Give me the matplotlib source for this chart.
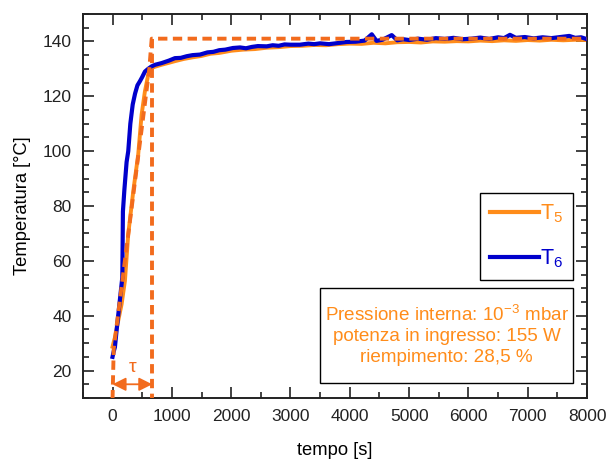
import matplotlib.pyplot as plt
from matplotlib.patches import Rectangle
from matplotlib.ticker import MultipleLocator

plt.rcParams['font.family'] = ['Liberation Sans', 'DejaVu Sans']
plt.rcParams['mathtext.fontset'] = 'custom'
plt.rcParams['mathtext.rm'] = 'Liberation Sans'
plt.rcParams['mathtext.it'] = 'Liberation Sans'

# T6 (blue)
t6_time = [0, 20, 40, 70, 100, 130, 155, 165, 175, 200, 237, 265, 300, 340, 380, 420, 462, 500,
           546, 600, 659, 720, 828, 950, 1052, 1150, 1250, 1350, 1474, 1600, 1700, 1800, 1900,
           2030, 2150, 2250, 2350, 2450, 2599, 2700, 2800, 2900, 3000, 3160, 3300, 3400, 3500,
           3650, 3800, 3948, 4100, 4250, 4370, 4450, 4550, 4707, 4800, 4900, 5000, 5150, 5300,
           5450, 5600, 5750, 5900, 6050, 6200, 6350, 6500, 6600, 6700, 6800, 6950, 7100, 7250,
           7400, 7550, 7700, 7800, 7900, 8000]
t6_temp = [25, 27, 28.5, 35, 41, 47, 52, 54, 78, 86, 96, 100, 110, 117, 121, 124, 125.5, 127,
           129, 130, 130.9, 131.5, 132.1, 133, 133.9, 134, 134.6, 135, 135.2, 136, 136.2, 136.8,
           137, 137.6, 137.8, 137.5, 138, 138.3, 138.2, 138.6, 138.4, 138.9, 138.8, 138.8, 139.2,
           139, 139.3, 139.0, 139.4, 139.8, 139.9, 140.3, 142.6, 140.2, 140.6, 142.3, 140.4,
           140.8, 140.5, 141, 140.6, 141.2, 140.9, 141.3, 140.8, 141, 141.4, 140.9, 141.5, 141.2,
           142.4, 141.3, 141.6, 141.1, 141.5, 141.2, 141.6, 142, 141.3, 141.5, 140.8]

# T5 (orange)
t5_time = [0, 15, 40, 96, 153, 209, 265, 350, 433, 490, 546, 602, 659, 720, 828, 950, 1052,
           1200, 1350, 1500, 1650, 1800, 2000, 2200, 2400, 2600, 2800, 3000, 3200, 3400, 3600,
           3800, 4000, 4200, 4400, 4600, 4800, 5000, 5200, 5400, 5600, 5800, 6000, 6200, 6400,
           6600, 6800, 7000, 7200, 7400, 7600, 7800, 8000]
t5_temp = [28.7, 30, 32, 38.2, 44.2, 52.7, 69.8, 85.5, 98.8, 113.3, 121.8, 127.9, 130.3, 130.8,
           131.5, 132.2, 132.8, 133.6, 134.2, 134.7, 135.5, 135.8, 136.6, 137, 137.2, 137.7,
           137.9, 138.3, 138.4, 138.7, 138.6, 139, 139.2, 139.1, 139.5, 139.3, 139.7, 139.8,
           139.6, 140, 139.9, 140.1, 140, 140.3, 140.1, 140.4, 140.2, 140.5, 140.3, 140.6,
           140.4, 140.6, 140.5]

# tangent / step construction
tang_time = [0, 20, 620, 660, 8000]
tang_temp = [9.5, 28, 130, 141, 141]
tau = 670
tau_line = [141, 10]
arrow_y = 15

c_t5 = '#ff8c1a'
c_dash = '#f26b1d'
c_t6 = '#0000cc'

fig = plt.figure(figsize=(6.09, 4.63), dpi=100)
ax = fig.add_axes([0.1356, 0.1404, 0.8284, 0.8294])

ax.plot(t5_time, t5_temp, color=c_t5, lw=2.8, label='T$_5$', zorder=2)
ax.plot(t6_time, t6_temp, color=c_t6, lw=3.0, label='T$_6$', zorder=3)
ax.plot(tang_time, tang_temp, color=c_dash, lw=2.8, ls=(0, (2.4, 1.4)), zorder=4)
ax.plot([tau, tau], tau_line, color=c_dash, lw=2.8, ls=(0, (2.4, 1.4)), zorder=4)

ax.annotate('', xy=(tau, arrow_y), xytext=(0, arrow_y),
            arrowprops=dict(arrowstyle='<|-|>', color=c_dash, lw=1.3, mutation_scale=20,
                            shrinkA=0, shrinkB=0))
ax.text(tau / 2, 21, 'τ', color=c_dash, fontsize=14, ha='center', va='center')

ax.set_xlim(-505, 8000)
ax.set_ylim(10, 150)
ax.xaxis.set_major_locator(MultipleLocator(1000))
ax.xaxis.set_minor_locator(MultipleLocator(500))
ax.yaxis.set_major_locator(MultipleLocator(20))
ax.yaxis.set_minor_locator(MultipleLocator(5))
ax.tick_params(which='both', direction='in', top=True, right=True, labelsize=12.5, width=1.2,
               colors='#222222')
ax.tick_params(which='major', length=8, pad=8)
ax.tick_params(which='minor', length=4.5)
for s in ax.spines.values():
    s.set_linewidth(1.4)
    s.set_color('#222222')

ax.set_xlabel('tempo [s]', fontsize=13.2, labelpad=13)
ax.set_ylabel('Temperatura [°C]', fontsize=13.2, labelpad=8)

leg = ax.legend(loc='upper right', bbox_to_anchor=(0.972, 0.535), borderaxespad=0, fontsize=15.5,
                handlelength=2.3, handletextpad=0.05, labelspacing=1.05, borderpad=0.45,
                fancybox=False, edgecolor='black', framealpha=1, labelcolor='linecolor')
leg.get_frame().set_linewidth(1.0)
for h in leg.get_lines():
    h.set_linewidth(3.0)

ax.add_patch(Rectangle((0.471, 0.039), 0.501, 0.248, transform=ax.transAxes, fill=False,
                       edgecolor='black', lw=1.0, zorder=5))
ax.text(0.7215, 0.163, 'Pressione interna: 10$^{-3}$ mbar\npotenza in ingresso: 155 W\nriempimento: 28,5 %',
        transform=ax.transAxes, ha='center', va='center', color=c_t5, fontsize=13.6,
        linespacing=1.3, zorder=6)

fig.savefig('out.png', dpi=100)
